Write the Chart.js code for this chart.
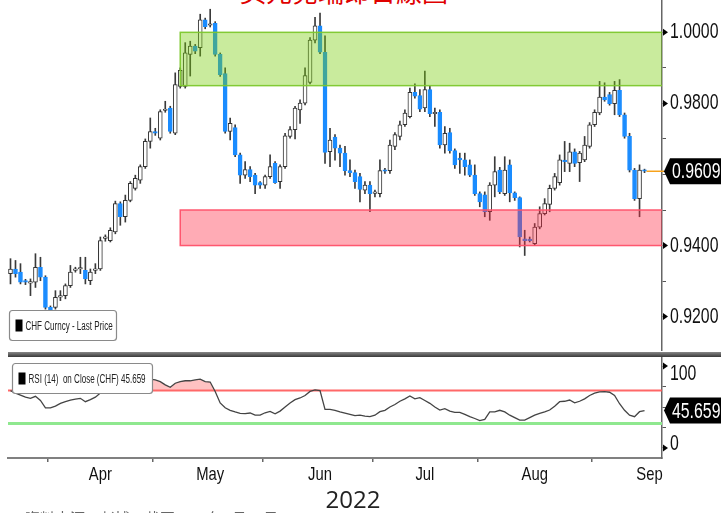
<!DOCTYPE html>
<html>
<head>
<meta charset="utf-8">
<script src="https://cdn.jsdelivr.net/npm/chart.js@4.4.0/dist/chart.umd.min.js"></script>
<style>
  body { margin: 0; width: 721px; height: 513px; overflow: hidden; background: #fff; position: relative; }
  #title { position: absolute; left: 240px; top: -24px; font: 26px/30px 'Noto Sans CJK TC', sans-serif; color: #e00000; white-space: nowrap; }
  #main { position: absolute; left: 0; top: 0; }
  #sep { position: absolute; left: 8px; top: 352px; width: 713px; height: 5px; background: linear-gradient(#888, #3a3a3a); }
  #rsi { position: absolute; left: 0; top: 357px; }
  #year { position: absolute; left: 0; width: 706px; top: 484px; text-align: center; font: 24px/30px 'Open Sans', sans-serif; color: #222; }
  #src { position: absolute; left: 25px; top: 509px; font: 15px/18px 'Noto Sans CJK TC', sans-serif; color: #666; white-space: nowrap; }
</style>
</head>
<body>
<div id="title">美元兌瑞郎日線圖</div>
<canvas id="main" width="721" height="352"></canvas>
<div id="sep"></div>
<canvas id="rsi" width="721" height="133"></canvas>
<div id="year">2022</div>
<div id="src">資料來源：彭博，截至2022年9月15日</div>
<script>
// daily USD/CHF candles, 22 Mar - 15 Sep 2022
const open = [0.9321,0.9334,0.9325,0.9299,0.9294,0.9297,0.9339,0.9311,0.9226,0.9226,
  0.9255,0.9259,0.9287,0.9330,0.9334,0.9330,0.9301,0.9330,0.9334,0.9420,
  0.9414,0.9438,0.9518,0.9481,0.9527,0.9561,0.9584,0.9622,0.9693,0.9721,
  0.9702,0.9780,0.9787,0.9716,0.9848,0.9848,0.9938,0.9961,0.9957,1.0035,
  1.0020,1.0025,0.9938,0.9884,0.9721,0.9732,0.9655,0.9598,0.9614,0.9598,
  0.9577,0.9570,0.9594,0.9631,0.9580,0.9622,0.9707,0.9726,0.9782,0.9801,
  0.9859,0.9978,1.0018,0.9944,0.9664,0.9705,0.9674,0.9660,0.9611,0.9605,
  0.9594,0.9556,0.9570,0.9547,0.9546,0.9612,0.9611,0.9679,0.9707,0.9740,
  0.9763,0.9831,0.9822,0.9787,0.9839,0.9771,0.9775,0.9683,0.9718,0.9667,
  0.9646,0.9641,0.9627,0.9598,0.9546,0.9543,0.9495,0.9570,0.9612,0.9546,
  0.9627,0.9548,0.9535,0.9419,0.9416,0.9405,0.9452,0.9490,0.9516,0.9561,
  0.9577,0.9639,0.9631,0.9664,0.9633,0.9641,0.9679,0.9740,0.9773,0.9818,
  0.9825,0.9799,0.9837,0.9768,0.9707,0.9612,0.9532,0.9612];
const high = [0.9363,0.9358,0.9349,0.9305,0.9306,0.9377,0.9367,0.9315,0.9230,0.9273,
  0.9273,0.9292,0.9344,0.9339,0.9367,0.9367,0.9334,0.9349,0.9424,0.9430,
  0.9450,0.9525,0.9523,0.9542,0.9580,0.9598,0.9627,0.9700,0.9759,0.9730,
  0.9782,0.9806,0.9792,0.9886,0.9900,0.9971,0.9975,0.9966,1.0051,1.0040,
  1.0065,1.0030,0.9942,0.9900,0.9759,0.9740,0.9660,0.9636,0.9622,0.9603,
  0.9580,0.9598,0.9655,0.9636,0.9627,0.9716,0.9735,0.9792,0.9810,0.9900,
  0.9985,1.0042,1.0054,0.9990,0.9730,0.9712,0.9683,0.9679,0.9641,0.9612,
  0.9603,0.9580,0.9580,0.9556,0.9641,0.9617,0.9697,0.9718,0.9750,0.9782,
  0.9843,0.9855,0.9839,0.9891,0.9848,0.9787,0.9782,0.9735,0.9730,0.9672,
  0.9660,0.9660,0.9641,0.9627,0.9551,0.9551,0.9577,0.9650,0.9620,0.9650,
  0.9641,0.9551,0.9537,0.9443,0.9424,0.9462,0.9509,0.9532,0.9570,0.9603,
  0.9655,0.9693,0.9688,0.9672,0.9665,0.9707,0.9746,0.9782,0.9862,0.9858,
  0.9831,0.9862,0.9867,0.9773,0.9716,0.9617,0.9627,0.9615];
const low = [0.9292,0.9311,0.9292,0.9290,0.9259,0.9282,0.9301,0.9221,0.9212,0.9221,
  0.9245,0.9250,0.9282,0.9325,0.9321,0.9292,0.9290,0.9321,0.9330,0.9412,
  0.9410,0.9433,0.9457,0.9466,0.9523,0.9556,0.9575,0.9617,0.9674,0.9710,
  0.9697,0.9775,0.9716,0.9712,0.9843,0.9843,0.9877,0.9940,0.9933,1.0010,
  1.0015,0.9933,0.9876,0.9716,0.9697,0.9650,0.9575,0.9589,0.9580,0.9546,
  0.9561,0.9561,0.9589,0.9575,0.9561,0.9617,0.9702,0.9700,0.9744,0.9796,
  0.9855,0.9970,0.9940,0.9631,0.9622,0.9640,0.9622,0.9598,0.9594,0.9561,
  0.9523,0.9546,0.9495,0.9537,0.9537,0.9603,0.9603,0.9670,0.9697,0.9735,
  0.9759,0.9815,0.9777,0.9777,0.9763,0.9735,0.9674,0.9660,0.9660,0.9617,
  0.9603,0.9598,0.9594,0.9541,0.9509,0.9481,0.9471,0.9537,0.9546,0.9541,
  0.9523,0.9527,0.9396,0.9372,0.9410,0.9400,0.9447,0.9486,0.9495,0.9556,
  0.9570,0.9608,0.9608,0.9622,0.9580,0.9636,0.9674,0.9735,0.9768,0.9806,
  0.9795,0.9768,0.9763,0.9702,0.9607,0.9527,0.9481,0.9605];
const close = [0.9334,0.9321,0.9297,0.9297,0.9296,0.9339,0.9311,0.9226,0.9218,0.9254,
  0.9256,0.9287,0.9325,0.9332,0.9336,0.9306,0.9325,0.9332,0.9414,0.9424,
  0.9443,0.9518,0.9481,0.9527,0.9575,0.9589,0.9622,0.9693,0.9721,0.9716,
  0.9777,0.9782,0.9721,0.9853,0.9893,0.9942,0.9961,0.9947,1.0035,1.0016,
  1.0023,0.9938,0.9881,0.9721,0.9744,0.9655,0.9598,0.9614,0.9594,0.9570,
  0.9570,0.9594,0.9622,0.9577,0.9622,0.9709,0.9726,0.9787,0.9801,0.9878,
  0.9978,1.0018,0.9944,0.9662,0.9697,0.9674,0.9660,0.9611,0.9605,0.9580,
  0.9558,0.9570,0.9546,0.9549,0.9611,0.9609,0.9683,0.9712,0.9740,0.9773,
  0.9831,0.9820,0.9784,0.9839,0.9771,0.9775,0.9683,0.9716,0.9667,0.9627,
  0.9641,0.9622,0.9598,0.9546,0.9523,0.9495,0.9570,0.9608,0.9551,0.9612,
  0.9548,0.9535,0.9424,0.9414,0.9414,0.9452,0.9490,0.9518,0.9561,0.9594,
  0.9641,0.9636,0.9664,0.9631,0.9660,0.9683,0.9740,0.9775,0.9818,0.9810,
  0.9799,0.9837,0.9768,0.9707,0.9612,0.9532,0.9612,0.9609];
// RSI(14) on close
const rsi = [70,67,64.6,62,60.6,63,58,49,49,51,
  54.5,56.5,58.5,59.5,60.6,56.5,59,62,67,70,
  73,75,77,78,80,79,81,83,84,83,
  81,77,74,79,81,82,82,83,84,81,
  80.5,69,55,49,46,44,42.3,42,42.7,40,
  40,43,44.6,41.7,45,50,55,59,61,64,
  69,71,70,47,47,46,44,42.5,41,39.5,
  40,39,38.2,40,44.3,46,50,53,57,60,
  63.4,60,61.4,58,54.5,50,46.3,48,45,43.5,
  43.5,41,38.2,36,33.5,35,44,44,46,44,
  40,37,34.1,34,37,40,42.3,44,46.3,51,
  56.5,57,58.5,55,57,60,64,67,68.5,68.7,
  68,64,54,46,40,38.2,44.3,45.659];

const resistanceZone = [0.985, 1.0];
const supportZone = [0.94, 0.95];
const zoneStartIdx = 34;
const rsiUpper = 70, rsiLower = 30;

const priceTicks = [0.92, 0.93, 0.94, 0.95, 0.96, 0.97, 0.98, 0.99, 1.00];
const priceLabels = [0.92, 0.94, 0.98, 1.00];
const rsiTicks = [0, 25, 50, 75, 100];
const rsiLabels = [0, 100];
const monthNames = ['Apr', 'May', 'Jun', 'Jul', 'Aug', 'Sep'];
const monthLabelIdx = [18, 40, 62, 83, 105, 128];

const priceLegend = 'CHF Curncy - Last Price';
const rsiLegend = 'RSI (14)  on Close (CHF) ';

// weekday categories (3 empty slots at the right edge)
const dates = [];
for (let d = new Date(Date.UTC(2022, 2, 22)); dates.length < 131; d.setUTCDate(d.getUTCDate() + 1)) {
  const wd = d.getUTCDay();
  if (wd > 0 && wd < 6) dates.push(d.toISOString().slice(0, 10));
}
const monthStarts = dates.map((s, i) => (i > 0 && s.slice(5, 7) !== dates[i - 1].slice(5, 7)) ? i : -1).filter(i => i >= 0);

const FONT = "'Liberation Sans', Arial, sans-serif";
const BLUE = '#1a8cff';
const isUp = i => close[i] >= open[i];

// bloomberg-style condensed text: squeeze the glyphs horizontally
function narrowText(ctx, text, x, y, size, sx, color, align) {
  ctx.save();
  ctx.font = size + 'px ' + FONT;
  ctx.fillStyle = color || '#111';
  ctx.textAlign = align || 'left';
  ctx.textBaseline = 'middle';
  ctx.translate(x, y); ctx.scale(sx, 1);
  ctx.fillText(text, 0, 0);
  ctx.restore();
}

function arrow(ctx, x, y) {
  ctx.fillStyle = '#000';
  ctx.beginPath();
  ctx.moveTo(x, y - 3.5); ctx.lineTo(x + 5, y); ctx.lineTo(x, y + 3.5);
  ctx.closePath(); ctx.fill();
}

function tag(ctx, x, y, text) {
  ctx.fillStyle = '#000';
  ctx.beginPath();
  ctx.moveTo(x, y); ctx.lineTo(x + 6, y - 13); ctx.lineTo(721, y - 13);
  ctx.lineTo(721, y + 13); ctx.lineTo(x + 6, y + 13); ctx.closePath();
  ctx.fill();
  narrowText(ctx, text, x + 8, y + 1, 22, 0.72, '#fff');
}

function legendBox(ctx, x, y, w, h, text) {
  ctx.fillStyle = '#fff'; ctx.strokeStyle = '#8a8a8a'; ctx.lineWidth = 1.2;
  ctx.beginPath(); ctx.roundRect(x, y, w, h, 3); ctx.fill(); ctx.stroke();
  ctx.fillStyle = '#000'; ctx.fillRect(x + 6, y + h / 2 - 6, 7, 12);
  narrowText(ctx, text, x + 16, y + h / 2 + 1, 12, 0.67, '#222');
}

// right-hand value axis: arrow + label, label kept inside the panel
function valueLabels(chart, values, fmt) {
  const {ctx, chartArea: a, scales: {y}} = chart;
  values.forEach(v => {
    const py = y.getPixelForValue(v);
    arrow(ctx, a.right + 1, py);
    const ly = Math.min(Math.max(py, a.top + 17), a.bottom - 14);
    narrowText(ctx, fmt(v), a.right + 8, ly, 22, 0.72);
  });
}

const sideAxis = s => { s.width = 59; s.paddingTop = 0; s.paddingBottom = 0; };

const mainOverlay = {
  id: 'mainOverlay',
  afterDatasetsDraw(chart) {
    const {ctx, chartArea: a, scales: {x, y}} = chart;
    const x0 = x.getPixelForValue(zoneStartIdx);
    ctx.save();
    ctx.beginPath(); ctx.rect(a.left, a.top, a.width, a.height); ctx.clip();
    [[resistanceZone, 'rgba(120,205,10,0.4)', 'rgba(125,200,45,0.95)'],
     [supportZone, 'rgba(255,45,70,0.4)', 'rgba(255,80,105,0.95)']].forEach(([z, fill, line]) => {
      const yt = y.getPixelForValue(z[1]), yb = y.getPixelForValue(z[0]);
      ctx.fillStyle = fill; ctx.fillRect(x0, yt, a.right - x0, yb - yt);
      ctx.strokeStyle = line; ctx.lineWidth = 1.5; ctx.strokeRect(x0, yt, a.right - x0 + 2, yb - yt);
    });
    ctx.restore();
  },
  afterDraw(chart) {
    const {ctx, chartArea: a, scales: {x, y}} = chart;
    ctx.save();
    valueLabels(chart, priceLabels, v => v.toFixed(4));
    const last = close[close.length - 1];
    const yp = y.getPixelForValue(last);
    ctx.strokeStyle = '#f7a21b'; ctx.lineWidth = 1.5;
    ctx.beginPath(); ctx.moveTo(x.getPixelForValue(close.length - 1) + 2, yp); ctx.lineTo(a.right + 2, yp); ctx.stroke();
    tag(ctx, a.right + 2, yp, last.toFixed(4));
    legendBox(ctx, 9.5, 310.5, 107, 30, priceLegend);
    ctx.restore();
  }
};

new Chart(document.getElementById('main'), {
  type: 'bar',
  data: {
    labels: dates,
    datasets: [
      {
        data: high.map((h, i) => [low[i], h]),
        backgroundColor: '#3a3a3a',
        barThickness: 1,
        grouped: false,
        order: 2
      },
      {
        data: open.map((o, i) => [o, close[i]]),
        backgroundColor: open.map((o, i) => isUp(i) ? '#fff' : BLUE),
        borderColor: open.map((o, i) => isUp(i) ? '#333' : BLUE),
        borderWidth: 1,
        borderSkipped: false,
        barThickness: 4,
        minBarLength: 1.5,
        grouped: false,
        order: 1
      }
    ]
  },
  options: {
    responsive: false,
    animation: false,
    devicePixelRatio: 1,
    layout: {padding: {left: 8, right: 0, top: 0, bottom: 2}},
    plugins: {legend: {display: false}, tooltip: {enabled: false}},
    scales: {
      x: {type: 'category', display: false, offset: true},
      y: {
        position: 'right',
        min: 0.9106,
        max: 1.0091,
        afterBuildTicks: s => { s.ticks = priceTicks.map(v => ({value: v})); },
        afterFit: sideAxis,
        border: {color: '#666', width: 1.5},
        grid: {drawOnChartArea: false, tickLength: 4, color: '#555'},
        ticks: {display: false}
      }
    }
  },
  plugins: [mainOverlay]
});

const rsiOverlay = {
  id: 'rsiOverlay',
  beforeDatasetsDraw(chart) {
    const {ctx, chartArea: a, scales: {y}} = chart;
    ctx.save();
    ctx.strokeStyle = 'rgba(255,85,85,0.9)'; ctx.lineWidth = 2;
    ctx.beginPath(); ctx.moveTo(a.left, y.getPixelForValue(rsiUpper)); ctx.lineTo(a.right, y.getPixelForValue(rsiUpper)); ctx.stroke();
    ctx.strokeStyle = '#8fe88f'; ctx.lineWidth = 3;
    ctx.beginPath(); ctx.moveTo(a.left, y.getPixelForValue(rsiLower)); ctx.lineTo(a.right, y.getPixelForValue(rsiLower)); ctx.stroke();
    ctx.restore();
  },
  afterDraw(chart) {
    const {ctx, chartArea: a, scales: {x, y}} = chart;
    ctx.save();
    valueLabels(chart, rsiLabels, v => String(v));
    monthLabelIdx.forEach((idx, k) => narrowText(ctx, monthNames[k], x.getPixelForValue(idx), a.bottom + 17, 19, 0.78, '#111', 'center'));
    const last = rsi[rsi.length - 1];
    tag(ctx, a.right + 2, y.getPixelForValue(last), last.toFixed(3));
    legendBox(ctx, 12.5, 6.5, 140, 30, rsiLegend + last.toFixed(3));
    ctx.restore();
  }
};

new Chart(document.getElementById('rsi'), {
  type: 'line',
  data: {
    labels: dates,
    datasets: [{
      data: rsi,
      borderColor: '#444',
      borderWidth: 1.3,
      pointRadius: 0,
      tension: 0,
      fill: {target: {value: rsiUpper}, above: 'rgba(255,120,120,0.45)', below: 'rgba(0,0,0,0)'}
    }]
  },
  options: {
    responsive: false,
    animation: false,
    devicePixelRatio: 1,
    layout: {padding: {left: 8, right: 0, top: 0, bottom: 0}},
    plugins: {legend: {display: false}, tooltip: {enabled: false}},
    scales: {
      x: {
        type: 'category',
        offset: true,
        afterFit: s => { s.height = 32; s.paddingLeft = 0; s.paddingRight = 0; },
        border: {color: '#808080', width: 2},
        grid: {
          offset: true,
          drawOnChartArea: false,
          tickLength: 4,
          lineWidth: 1.5,
          color: c => monthStarts.includes(c.index) ? '#666' : 'rgba(0,0,0,0)'
        },
        ticks: {display: false, autoSkip: false}
      },
      y: {
        position: 'right',
        min: -12.2,
        max: 111,
        afterBuildTicks: s => { s.ticks = rsiTicks.map(v => ({value: v})); },
        afterFit: sideAxis,
        border: {color: '#666', width: 1.5},
        grid: {drawOnChartArea: false, tickLength: 4, color: '#555'},
        ticks: {display: false}
      }
    }
  },
  plugins: [rsiOverlay]
});
</script>
</body>
</html>
